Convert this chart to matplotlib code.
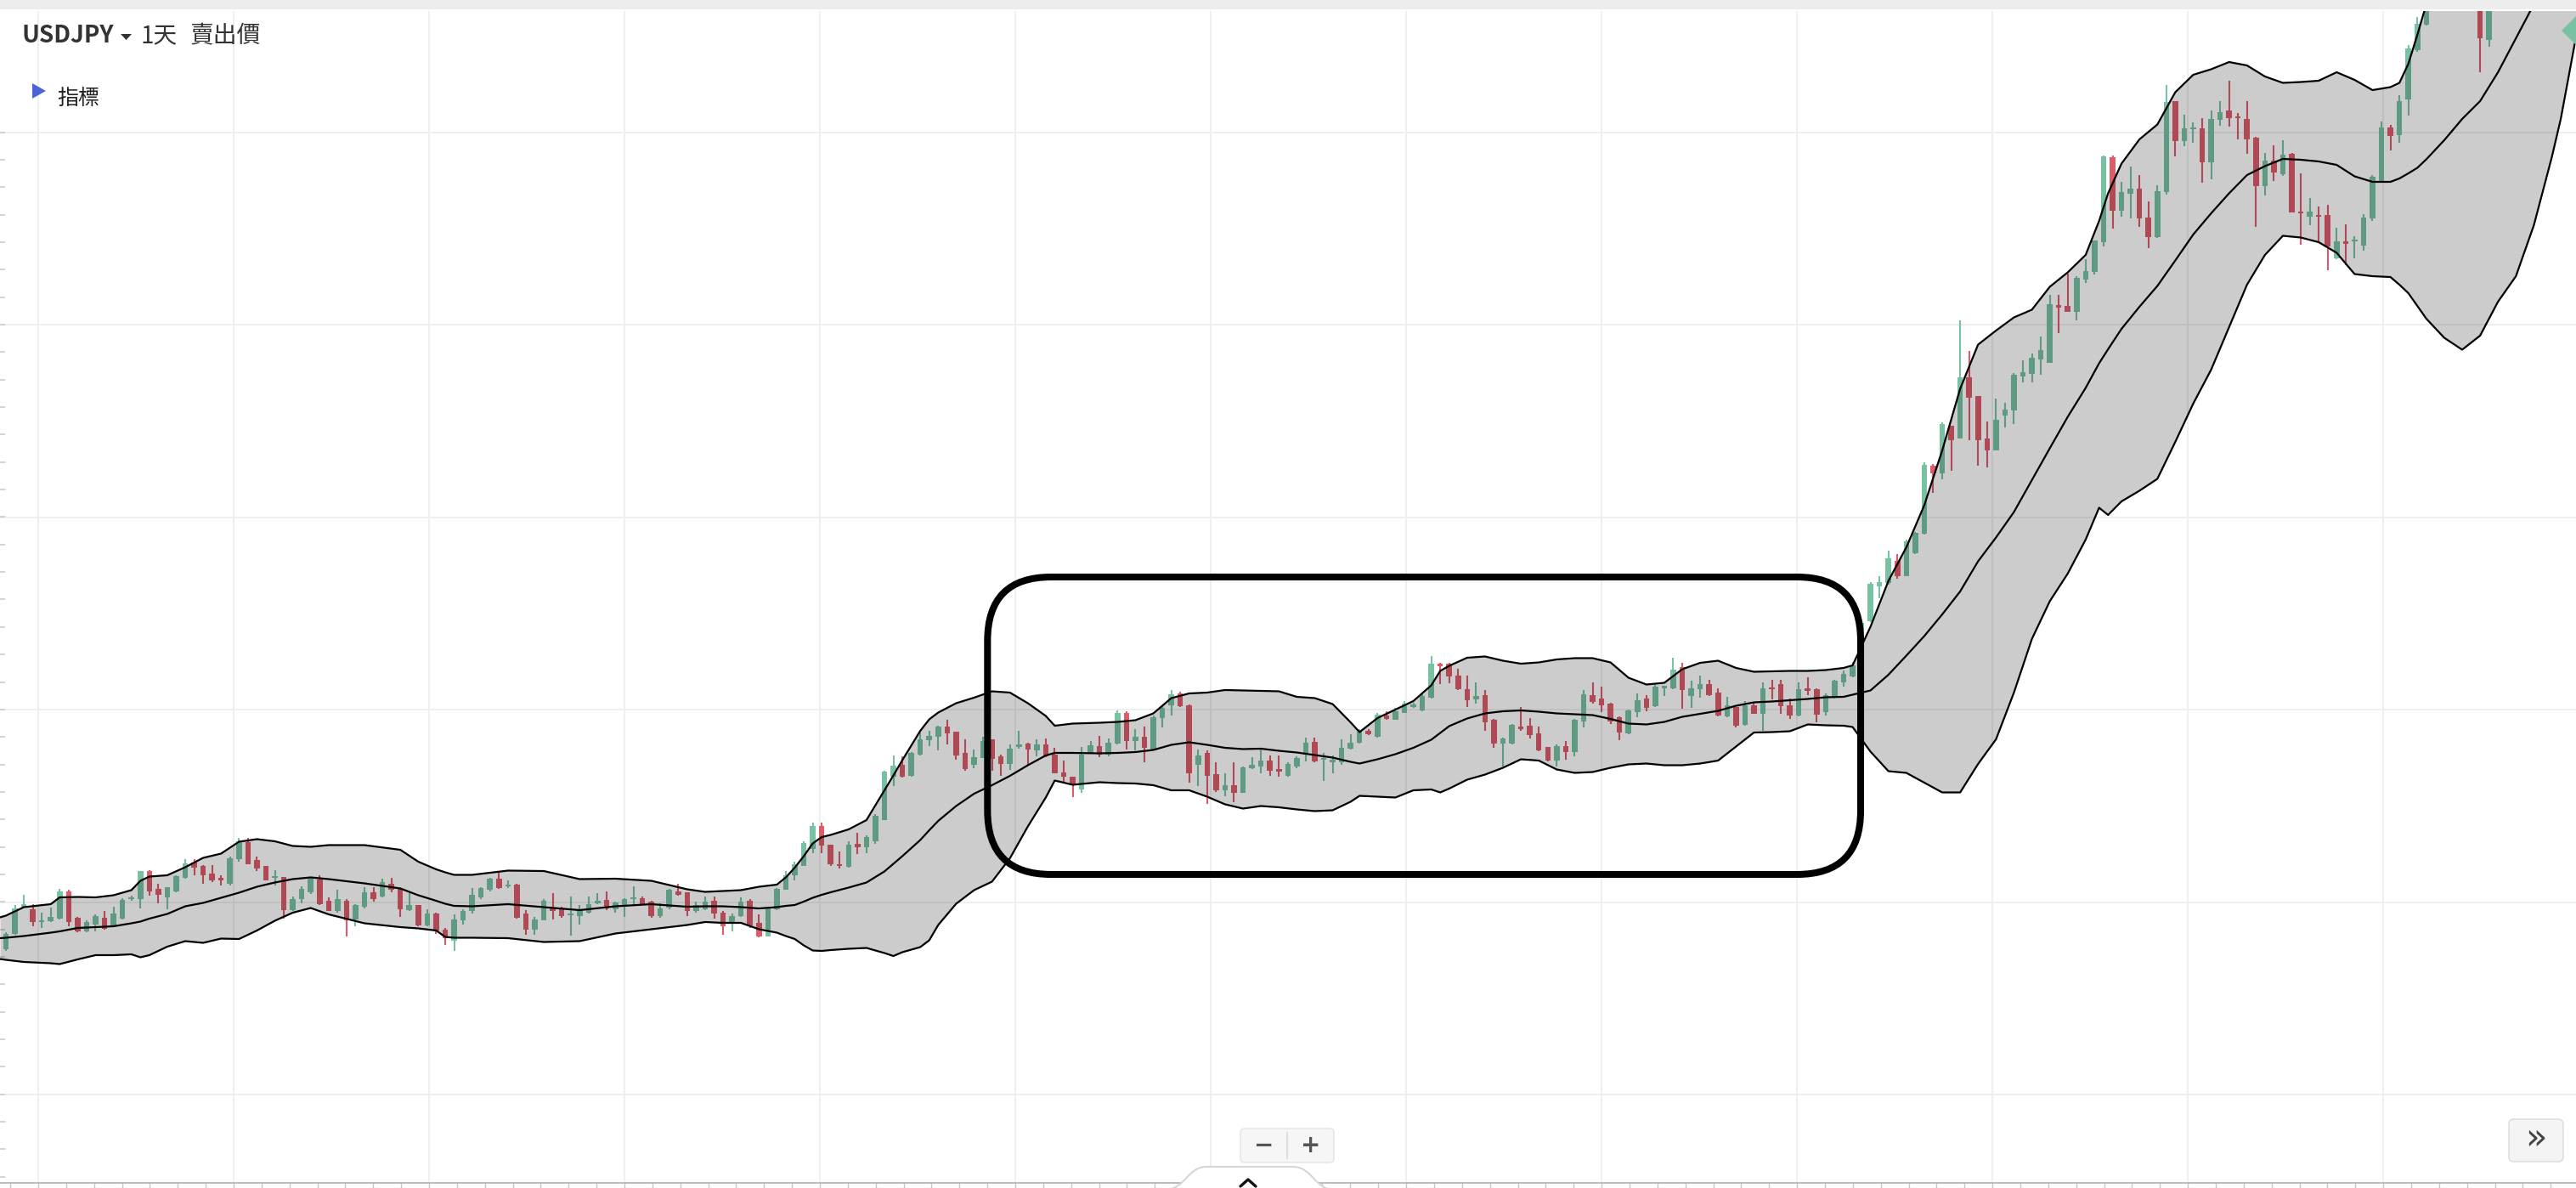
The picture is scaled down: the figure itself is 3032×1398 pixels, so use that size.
import numpy as np
import matplotlib.pyplot as plt
from matplotlib.patches import FancyBboxPatch, Rectangle, Polygon, PathPatch
from matplotlib.path import Path

plt.rcParams['font.family'] = ['Noto Sans CJK TC', 'DejaVu Sans']

W, H = 3032, 1398
nan = np.nan

# daily candles (trading-day index); days 271-275 sit above the visible range
day = list(range(271)) + [276, 277]

open_ = [
    127.67, 128.03, 128.67, 128.60, 128.30, 128.32, 128.39, 129.03, 128.41, 128.08,
    128.25, 128.40, 128.21, 128.39, 128.84, 128.83, 129.50, 129.08, 128.88, 129.03,
    129.33, 129.70, 129.61, 129.45, 129.33, 129.20, 129.77, 130.19, 129.75, 129.61,
    129.33, 129.37, 128.59, 128.83, 129.01, 129.30, 128.80, 128.57, 128.79, 128.37,
    128.67, 129.01, 128.90, 129.20, 129.08, 128.59, 128.70, 128.23, 128.50, 128.12,
    127.87, 128.33, 128.55, 128.88, 129.05, 129.32, 129.15, 129.19, 128.50, 128.12,
    128.35, 128.61, 128.63, 128.47, 128.45, 128.52, 128.75, 128.81, 128.60, 128.67,
    128.85, 128.87, 128.77, 128.45, 128.65, 129.03, 129.00, 128.55, 128.60, 128.80,
    128.53, 128.27, 128.45, 128.81, 128.28, 127.97, 128.60, 129.07, 129.40, 129.63,
    130.03, 130.55, 130.12, 129.67, 129.60, 130.13, 130.07, 130.20, 130.70, 131.73,
    132.00, 131.75, 132.25, 132.59, 132.67, 132.90, 132.77, 132.28, 132.00, 132.17,
    132.59, 132.20, 132.03, 132.43, 132.50, 132.35, 132.48, 132.25, 131.81, 131.73,
    131.43, 132.28, 132.43, 132.25, 132.50, 133.23, 132.55, 132.65, 132.35, 133.10,
    133.40, 133.68, 133.41, 132.01, 132.28, 131.77, 131.41, 131.52, 131.35, 131.92,
    131.97, 132.10, 131.90, 131.75, 131.97, 132.25, 132.53, 132.12, 132.07, 132.07,
    132.39, 132.52, 132.80, 132.67, 133.15, 133.07, 133.23, 133.37, 133.28, 133.59,
    134.39, 134.37, 134.10, 133.79, 133.55, 133.65, 133.05, 132.50, 132.50, 132.90,
    132.92, 132.73, 132.41, 132.10, 132.43, 132.30, 133.03, 133.65, 133.55, 133.45,
    133.13, 132.75, 133.25, 133.57, 133.39, 133.81, 133.81, 134.30, 133.61, 133.79,
    133.90, 133.70, 133.15, 133.37, 132.95, 133.41, 133.21, 133.81, 133.90, 133.41,
    133.17, 133.80, 133.79, 133.25, 133.59, 133.95, 134.09, 134.34, 135.38, 136.21,
    136.29, 136.80, 136.44, 136.99, 137.45, 139.04, 138.86, 139.98, 139.69, 141.11,
    140.67, 139.69, 139.40, 140.23, 140.35, 141.14, 141.20, 141.55, 141.47, 142.82,
    142.80, 142.67, 143.42, 143.60, 144.30, 146.31, 145.04, 145.45, 145.55, 144.89,
    144.43, 145.49, 147.62, 146.69, 146.96, 146.98, 146.19, 147.18, 147.40, 147.25,
    147.20, 146.76, 145.62, 146.21, 145.90, 146.39, 145.02, 144.91, 144.94, 144.94,
    143.92, 144.32, 144.32, 144.23, 144.87, 145.75, 147.00, 146.82, 147.66, 148.82,
    149.43, 150.60, 149.07,
]

high = [
    128.07, 128.70, 128.95, 128.73, 128.53, 128.65, 129.08, 129.07, 128.43, 128.35,
    128.48, 128.57, 128.67, 128.87, 128.93, 129.50, 129.53, 129.20, 129.12, 129.40,
    129.77, 129.77, 129.65, 129.65, 129.40, 129.83, 130.28, 130.28, 129.85, 129.61,
    129.53, 129.37, 128.90, 129.15, 129.37, 129.41, 128.88, 129.07, 128.85, 128.73,
    129.12, 129.12, 129.32, 129.33, 129.10, 129.01, 128.70, 128.60, 128.53, 128.17,
    128.48, 128.60, 129.10, 129.13, 129.33, 129.50, 129.27, 129.20, 128.59, 128.43,
    128.83, 128.99, 128.67, 128.90, 128.70, 128.90, 128.99, 129.03, 128.77, 128.87,
    129.15, 128.90, 128.81, 128.75, 129.08, 129.20, 129.01, 128.79, 128.90, 128.90,
    128.55, 128.50, 128.88, 128.83, 128.48, 128.67, 129.10, 129.50, 129.73, 130.20,
    130.65, 130.65, 130.12, 129.97, 130.20, 130.41, 130.33, 130.83, 131.87, 132.23,
    132.21, 132.30, 132.77, 132.81, 132.93, 133.07, 132.77, 132.60, 132.37, 132.67,
    132.60, 132.25, 132.48, 132.81, 132.52, 132.60, 132.63, 132.41, 132.10, 131.73,
    132.43, 132.57, 132.68, 132.63, 133.28, 133.27, 132.85, 132.90, 133.17, 133.40,
    133.77, 133.72, 133.43, 132.37, 132.33, 132.07, 131.81, 132.07, 131.97, 132.19,
    132.37, 132.23, 132.23, 132.07, 132.20, 132.65, 132.65, 132.28, 132.23, 132.60,
    132.72, 132.85, 132.83, 133.23, 133.27, 133.35, 133.50, 133.47, 133.67, 134.57,
    134.41, 134.41, 134.27, 134.10, 133.95, 133.77, 133.08, 132.65, 132.97, 133.37,
    133.10, 132.90, 132.43, 132.48, 132.57, 133.08, 133.77, 133.95, 133.85, 133.47,
    133.15, 133.30, 133.68, 133.65, 133.88, 133.85, 134.53, 134.40, 133.99, 134.10,
    134.01, 133.81, 133.60, 133.37, 133.50, 133.47, 133.95, 134.01, 134.01, 133.57,
    133.95, 134.07, 133.81, 133.68, 134.01, 134.22, 134.42, 135.42, 136.31, 136.44,
    137.05, 136.97, 137.30, 137.49, 139.12, 139.09, 140.06, 139.98, 142.47, 141.74,
    140.67, 140.09, 140.62, 140.53, 141.22, 141.53, 141.68, 142.08, 143.07, 143.07,
    143.57, 143.50, 143.90, 144.34, 146.34, 146.34, 145.72, 146.08, 145.88, 145.27,
    145.64, 148.01, 147.62, 147.31, 147.13, 147.23, 147.40, 147.62, 148.11, 147.35,
    147.62, 146.79, 146.41, 146.59, 146.71, 146.41, 145.93, 145.35, 145.14, 145.19,
    144.65, 144.73, 144.45, 144.97, 145.88, 147.14, 147.07, 147.76, 148.95, 149.60,
    150.40, 150.80, 150.70,
]

low = [
    127.63, 128.00, 128.65, 128.21, 128.17, 128.30, 128.37, 128.21, 128.05, 128.05,
    128.08, 128.12, 128.21, 128.37, 128.80, 128.63, 128.93, 128.75, 128.60, 129.00,
    129.32, 129.41, 129.20, 129.25, 129.17, 129.17, 129.72, 129.67, 129.50, 129.27,
    129.17, 128.39, 128.57, 128.75, 128.97, 128.70, 128.55, 128.53, 127.97, 128.20,
    128.63, 128.79, 128.88, 129.01, 128.43, 128.57, 128.21, 128.21, 128.02, 127.77,
    127.63, 128.25, 128.50, 128.83, 129.03, 129.08, 129.10, 128.39, 128.00, 128.00,
    128.33, 128.37, 128.41, 127.99, 128.25, 128.50, 128.72, 128.59, 128.53, 128.43,
    128.68, 128.72, 128.41, 128.41, 128.60, 128.93, 128.45, 128.52, 128.59, 128.39,
    128.01, 128.08, 128.43, 128.17, 127.95, 127.97, 128.59, 129.05, 129.27, 129.61,
    129.93, 129.93, 129.62, 129.55, 129.59, 129.90, 129.93, 130.15, 130.70, 131.50,
    131.70, 131.73, 132.23, 132.45, 132.33, 132.48, 132.12, 131.87, 131.92, 132.17,
    131.87, 131.75, 131.88, 132.39, 132.00, 132.20, 132.19, 131.80, 131.57, 131.25,
    131.35, 132.27, 132.19, 132.20, 132.48, 132.37, 132.33, 132.05, 132.33, 132.88,
    133.17, 133.37, 131.59, 131.50, 131.08, 131.37, 131.27, 131.13, 131.33, 131.90,
    131.80, 131.75, 131.72, 131.72, 131.92, 132.08, 132.05, 131.63, 131.81, 132.00,
    132.37, 132.50, 132.70, 132.65, 133.07, 133.05, 133.23, 133.33, 133.27, 133.57,
    133.90, 133.92, 133.77, 133.37, 133.45, 132.80, 132.41, 131.97, 132.48, 132.81,
    132.63, 132.32, 132.08, 131.97, 132.12, 132.21, 132.88, 133.45, 133.25, 132.97,
    132.59, 132.72, 133.13, 133.27, 133.37, 133.63, 133.79, 133.32, 133.35, 133.59,
    133.61, 133.15, 133.13, 132.88, 132.92, 133.20, 132.80, 133.55, 133.20, 133.08,
    133.15, 133.65, 133.00, 133.17, 133.57, 133.84, 134.07, 134.31, 135.36, 135.92,
    136.25, 136.39, 136.44, 136.97, 137.43, 138.40, 138.73, 138.93, 139.69, 139.65,
    139.04, 139.01, 139.40, 139.94, 140.02, 141.00, 141.00, 141.18, 141.47, 142.16,
    142.67, 142.47, 143.34, 143.55, 144.21, 144.63, 144.91, 144.87, 144.66, 144.17,
    144.41, 145.42, 146.32, 146.56, 146.64, 145.70, 145.78, 147.05, 147.02, 146.72,
    146.39, 144.67, 145.40, 145.75, 145.86, 145.00, 144.25, 144.71, 144.30, 143.64,
    143.90, 143.77, 143.93, 144.10, 144.81, 145.73, 146.47, 146.64, 147.29, 148.78,
    149.40, 148.30, 148.90,
]

close = [
    128.03, 128.63, 128.73, 128.30, 128.33, 128.41, 129.03, 128.30, 128.08, 128.30,
    128.45, 128.15, 128.50, 128.83, 128.87, 129.50, 129.03, 128.95, 129.12, 129.37,
    129.67, 129.59, 129.41, 129.28, 129.27, 129.81, 130.20, 129.67, 129.57, 129.28,
    129.37, 128.59, 128.85, 129.08, 129.32, 128.73, 128.57, 128.83, 128.33, 128.70,
    129.00, 128.85, 129.25, 129.07, 128.60, 128.70, 128.23, 128.50, 128.10, 127.93,
    128.37, 128.57, 128.93, 129.10, 129.32, 129.10, 129.19, 128.40, 128.13, 128.37,
    128.79, 128.57, 128.45, 128.49, 128.57, 128.73, 128.80, 128.61, 128.75, 128.83,
    128.87, 128.73, 128.45, 128.63, 129.05, 128.95, 128.57, 128.70, 128.79, 128.50,
    128.20, 128.45, 128.79, 128.23, 127.97, 128.61, 129.08, 129.40, 129.67, 130.17,
    130.55, 130.10, 129.67, 129.61, 130.12, 130.07, 130.30, 130.80, 131.85, 131.99,
    131.73, 132.28, 132.60, 132.68, 132.90, 132.75, 132.23, 131.90, 132.19, 132.57,
    132.15, 132.03, 132.37, 132.48, 132.37, 132.48, 132.20, 131.81, 131.72, 131.52,
    132.25, 132.47, 132.25, 132.53, 133.23, 132.57, 132.65, 132.41, 133.13, 133.33,
    133.67, 133.39, 131.80, 132.23, 131.75, 131.40, 131.52, 131.35, 131.95, 131.99,
    132.10, 131.87, 131.83, 132.03, 132.17, 132.53, 132.08, 132.15, 132.12, 132.40,
    132.53, 132.79, 132.73, 133.19, 133.08, 133.25, 133.45, 133.41, 133.61, 134.39,
    134.32, 134.08, 133.79, 133.52, 133.61, 133.00, 132.50, 132.61, 132.95, 132.85,
    132.70, 132.35, 132.10, 132.45, 132.30, 133.05, 133.65, 133.48, 133.41, 133.03,
    132.77, 133.28, 133.52, 133.33, 133.85, 133.85, 134.25, 133.77, 133.80, 133.90,
    133.65, 133.17, 133.41, 132.92, 133.41, 133.21, 133.81, 133.79, 133.39, 133.17,
    133.77, 133.75, 133.19, 133.65, 133.97, 134.15, 134.34, 135.33, 136.25, 136.31,
    136.85, 136.44, 137.27, 137.47, 139.07, 138.86, 140.02, 139.65, 141.11, 140.64,
    139.65, 139.40, 140.12, 140.37, 141.18, 141.25, 141.58, 141.76, 142.84, 142.77,
    142.67, 143.46, 143.63, 144.33, 146.32, 145.04, 145.47, 145.55, 144.87, 144.43,
    145.50, 147.60, 146.69, 146.98, 147.00, 146.19, 147.20, 147.37, 147.22, 147.22,
    146.72, 145.62, 146.23, 145.95, 146.36, 145.00, 144.98, 145.02, 144.91, 144.20,
    144.32, 144.26, 144.34, 144.89, 145.85, 147.00, 146.80, 147.63, 148.85, 149.45,
    150.20, 149.10, 150.50,
]

# Bollinger band (nan = above the visible area)
band_day = [
    -0.66, 0, 2, 5, 6, 8, 10, 12, 14, 15,
    16, 18, 20, 22, 24, 26, 28, 30, 32, 34,
    36, 40, 44, 46, 48, 49, 50, 52, 56, 60,
    64, 68, 72, 76, 78, 80, 82, 84, 86, 87,
    88, 89, 90, 91, 92, 94, 96, 98, 99, 100,
    102, 103, 104, 106, 108, 110, 112, 114, 116, 117,
    119, 122, 124, 126, 128, 130, 132, 134, 136, 138,
    140, 142, 144, 146, 148, 150, 151, 153, 155, 157,
    159, 160, 161, 163, 165, 167, 169, 171, 173, 175,
    177, 179, 181, 183, 185, 187, 189, 191, 193, 195,
    197, 199, 201, 203, 205, 206, 208, 210, 212, 214,
    216, 218, 220, 222, 224, 226, 228, 230, 232, 233.5,
    234.5, 236, 238, 240, 242, 244, 246, 248, 250, 252,
    254, 256, 258, 260, 262, 264, 266, 267, 268, 269,
    270, 272, 274, 276, 278, 280, 282, 284, 285, 286.7,
]

band_upper = [
    128.41, 128.45, 128.65, 128.72, 128.88, 128.89, 128.88, 128.93, 129.05, 129.27,
    129.37, 129.40, 129.59, 129.81, 129.91, 130.19, 130.25, 130.20, 130.09, 130.07,
    130.11, 130.11, 130.00, 129.72, 129.54, 129.47, 129.41, 129.41, 129.51, 129.50,
    129.31, 129.32, 129.27, 129.07, 129.01, 129.03, 129.05, 129.13, 129.18, 129.35,
    129.58, 129.85, 130.15, 130.30, 130.35, 130.48, 130.70, 131.40, 131.75, 132.11,
    132.80, 133.07, 133.23, 133.45, 133.58, 133.73, 133.70, 133.45, 133.15, 132.92,
    132.97, 132.99, 133.01, 133.05, 133.21, 133.57, 133.68, 133.70, 133.76, 133.75,
    133.74, 133.73, 133.60, 133.57, 133.43, 133.00, 132.77, 133.10, 133.30, 133.50,
    133.87, 134.21, 134.33, 134.52, 134.55, 134.45, 134.38, 134.41, 134.48, 134.51,
    134.51, 134.41, 134.05, 133.89, 133.93, 134.25, 134.40, 134.45, 134.28, 134.19,
    134.20, 134.21, 134.21, 134.23, 134.28, 134.34, 135.25, 136.33, 137.12, 138.11,
    139.40, 140.85, 141.89, 142.22, 142.53, 142.71, 143.25, 143.59, 144.00, 144.80,
    145.45, 146.15, 146.72, 147.07, 147.83, 148.24, 148.37, 148.54, 148.46, 148.20,
    148.05, 148.07, 148.10, 148.30, 148.12, 147.88, 147.95, 148.05, 148.50, 149.18,
    149.90, nan, nan, nan, nan, nan, nan, nan, nan, nan,
]

band_mid = [
    127.92, 127.93, 127.97, 128.05, 128.08, 128.16, 128.18, 128.20, 128.27, 128.31,
    128.38, 128.49, 128.67, 128.75, 128.87, 128.99, 129.13, 129.23, 129.31, 129.35,
    129.31, 129.21, 129.09, 128.93, 128.80, 128.73, 128.68, 128.67, 128.72, 128.65,
    128.58, 128.67, 128.72, 128.66, 128.67, 128.67, 128.65, 128.62, 128.65, 128.68,
    128.70, 128.78, 128.87, 128.94, 129.00, 129.11, 129.23, 129.49, 129.67, 129.85,
    130.23, 130.46, 130.68, 131.03, 131.32, 131.52, 131.74, 131.99, 132.22, 132.28,
    132.28, 132.27, 132.28, 132.30, 132.35, 132.47, 132.53, 132.47, 132.40, 132.37,
    132.38, 132.33, 132.29, 132.23, 132.17, 132.07, 132.03, 132.13, 132.25, 132.40,
    132.59, 132.75, 132.91, 133.09, 133.21, 133.26, 133.28, 133.25, 133.21, 133.19,
    133.17, 133.08, 132.97, 132.95, 133.01, 133.13, 133.20, 133.27, 133.39, 133.47,
    133.49, 133.52, 133.55, 133.59, 133.60, 133.65, 133.75, 134.12, 134.57, 135.03,
    135.54, 136.08, 136.79, 137.35, 137.95, 138.70, 139.45, 140.19, 140.87, 141.45,
    141.78, 142.26, 142.78, 143.27, 143.87, 144.48, 144.98, 145.45, 145.88, 146.09,
    146.26, 146.24, 146.20, 146.12, 145.85, 145.72, 145.72, 145.80, 145.92, 146.05,
    146.25, 146.70, 147.20, 147.62, 148.30, 149.10, 149.90, nan, nan, nan,
]

band_lower = [
    127.43, 127.41, 127.36, 127.33, 127.31, 127.42, 127.52, 127.52, 127.54, 127.47,
    127.52, 127.72, 127.85, 127.81, 127.91, 127.90, 128.10, 128.33, 128.52, 128.63,
    128.48, 128.27, 128.18, 128.15, 128.10, 127.95, 127.93, 127.93, 127.92, 127.83,
    127.85, 128.03, 128.13, 128.23, 128.30, 128.28, 128.28, 128.13, 128.05, 127.97,
    127.90, 127.75, 127.63, 127.62, 127.64, 127.67, 127.69, 127.57, 127.50, 127.59,
    127.71, 127.87, 128.23, 128.73, 129.05, 129.25, 129.80, 130.55, 131.23, 131.63,
    131.53, 131.59, 131.57, 131.56, 131.52, 131.40, 131.40, 131.25, 131.07, 130.97,
    131.03, 131.00, 130.95, 130.91, 130.93, 131.13, 131.27, 131.25, 131.23, 131.40,
    131.42, 131.35, 131.44, 131.65, 131.77, 131.93, 132.13, 132.10, 131.89, 131.81,
    131.83, 131.93, 132.01, 132.03, 131.99, 131.99, 132.03, 132.10, 132.43, 132.76,
    132.77, 132.79, 132.95, 132.93, 132.92, 132.89, 132.31, 131.85, 131.81, 131.58,
    131.35, 131.35, 132.02, 132.60, 133.70, 134.96, 135.85, 136.50, 137.30, 138.05,
    137.88, 138.20, 138.45, 138.73, 139.60, 140.50, 141.30, 142.30, 143.30, 144.00,
    144.45, 144.41, 144.30, 144.05, 143.55, 143.50, 143.48, 143.30, 143.10, 142.80,
    142.50, 142.05, 141.77, 142.10, 142.90, 143.50, 144.70, 146.30, 147.20, 149.13,
]

# highlighted consolidation range (trading days, price)
box_days = (109.5, 206.9)
box_price = (129.42, 136.42)

UP = '#77c2a3'
DOWN = '#dd5c68'
XLIM = (-0.66, 286.7)
YLIM = (122.16, 149.74)

fig = plt.figure(figsize=(W / 100, H / 100), dpi=100)
fig.patch.set_facecolor('white')

ax = fig.add_axes([0, 6 / H, 1, 1379 / H])
ax.set_facecolor('white')

# grid
x_grid = np.arange(3.6, 287, 21.8)
y_grid = 124.24 + 4.53 * np.arange(6)
for gx in x_grid:
    ax.axvline(gx, color='#efefef', lw=1.4, zorder=0)
for gy in y_grid:
    ax.axhline(gy, color='#efefef', lw=1.4, zorder=0)

x_minor = np.arange(3.6 - 21.8, 287, 21.8 / 7)
y_minor = 146.89 - 0.647 * np.arange(43)
ax.set_xticks([])
ax.set_yticks([])
ax.set_xticks(x_minor[(x_minor > XLIM[0]) & (x_minor < XLIM[1])], minor=True)
ax.set_yticks(y_minor[(y_minor > YLIM[0]) & (y_minor < YLIM[1])], minor=True)
ax.tick_params(axis='x', which='minor', direction='out', length=4, width=1, color='#c4c4c4', labelbottom=False)
ax.tick_params(axis='y', which='minor', direction='in', length=4, width=1.2, color='#c8ccd4', labelleft=False)
for s in ['top', 'right', 'left']:
    ax.spines[s].set_visible(False)
ax.spines['bottom'].set_color('#b5b5b5')
ax.spines['bottom'].set_linewidth(1.3)

# candles
d = np.array(day, float)
o = np.array(open_)
h = np.array(high)
l = np.array(low)
c = np.array(close)
cols = np.where(c >= o, UP, DOWN)
ax.vlines(d, l, h, colors=cols, linewidth=1.5, zorder=2)
ax.bar(d, np.maximum(np.abs(c - o), 0.04), bottom=np.minimum(o, c), width=0.62,
       color=cols, linewidth=0, zorder=2)

# bollinger band
bd = np.array(band_day, float)
bu = np.array(band_upper, float)
bm = np.array(band_mid, float)
bl = np.array(band_lower, float)
ax.fill_between(bd, bl, np.where(np.isnan(bu), YLIM[1] + 1, bu), color='black', alpha=0.2, lw=0, zorder=3)
for series in (bu, bm, bl):
    ax.plot(bd, series, color='black', lw=1.6, zorder=4, solid_joinstyle='round')

# highlight box
ax.add_patch(FancyBboxPatch((box_days[0], box_price[0]), box_days[1] - box_days[0],
                            box_price[1] - box_price[0],
                            boxstyle='round,pad=0,rounding_size=7.1', mutation_aspect=0.211,
                            fill=False, ec='black', lw=5.8, zorder=5))

ax.set_xlim(*XLIM)
ax.set_ylim(*YLIM)

# interface chrome in pixel units
ui = fig.add_axes([0, 0, 1, 1], zorder=10)
ui.set_xlim(0, W)
ui.set_ylim(H, 0)
ui.axis('off')

ui.add_patch(Rectangle((0, 0), W, 11, color='#ededed', lw=0))

ui.text(26, 50, 'USDJPY', fontsize=20, fontweight='bold', color='#333333', va='baseline')
ui.add_patch(Polygon([(142, 40), (155, 40), (148.5, 47)], closed=True, color='#333333', lw=0))
ui.text(166, 50, '1天', fontsize=20, color='#333333', va='baseline')
ui.text(224, 50, '賣出價', fontsize=20, color='#333333', va='baseline')

ui.add_patch(Polygon([(38, 98), (38, 116), (54, 107)], closed=True, color='#4a63d8', lw=0))
ui.text(67, 123, '指標', fontsize=18, color='#222222', va='baseline')

# current price marker at the right edge
ui.add_patch(Polygon([(3015, 36), (3035, 16), (3055, 36), (3035, 56)], closed=True, color=UP, lw=0))

# zoom buttons
ui.add_patch(FancyBboxPatch((1460, 1328), 110, 40, boxstyle='round,pad=0,rounding_size=5',
                            fc='#f6f6f6', ec='#e3e3e3', lw=1))
ui.plot([1515, 1515], [1333, 1363], color='#d9d9d9', lw=1.2)
ui.text(1488, 1348, '−', fontsize=20, fontweight='bold', color='#555555', ha='center', va='center',
        family='DejaVu Sans')
ui.text(1543, 1348, '+', fontsize=20, fontweight='bold', color='#555555', ha='center', va='center',
        family='DejaVu Sans')

# scroll button
ui.add_patch(FancyBboxPatch((2953, 1317), 64, 50, boxstyle='round,pad=0,rounding_size=6',
                            fc='#f4f4f4', ec='#dadada', lw=1))
ui.text(2985, 1340, '»', fontsize=30, color='#444444', ha='center', va='center', family='DejaVu Sans')

# bottom tab with caret
tab = Path([(1372, 1400), (1394, 1400), (1398, 1373), (1420, 1373),
            (1522, 1373), (1544, 1373), (1548, 1400), (1570, 1400)],
           [Path.MOVETO, Path.CURVE4, Path.CURVE4, Path.CURVE4,
            Path.LINETO, Path.CURVE4, Path.CURVE4, Path.CURVE4])
ui.add_patch(PathPatch(tab, fc='white', ec='#d6d6d6', lw=1.5))
ui.plot([1460, 1469, 1478], [1396, 1388, 1396], color='#111111', lw=2.4, solid_capstyle='round')

fig.savefig('out.png', dpi=100)
